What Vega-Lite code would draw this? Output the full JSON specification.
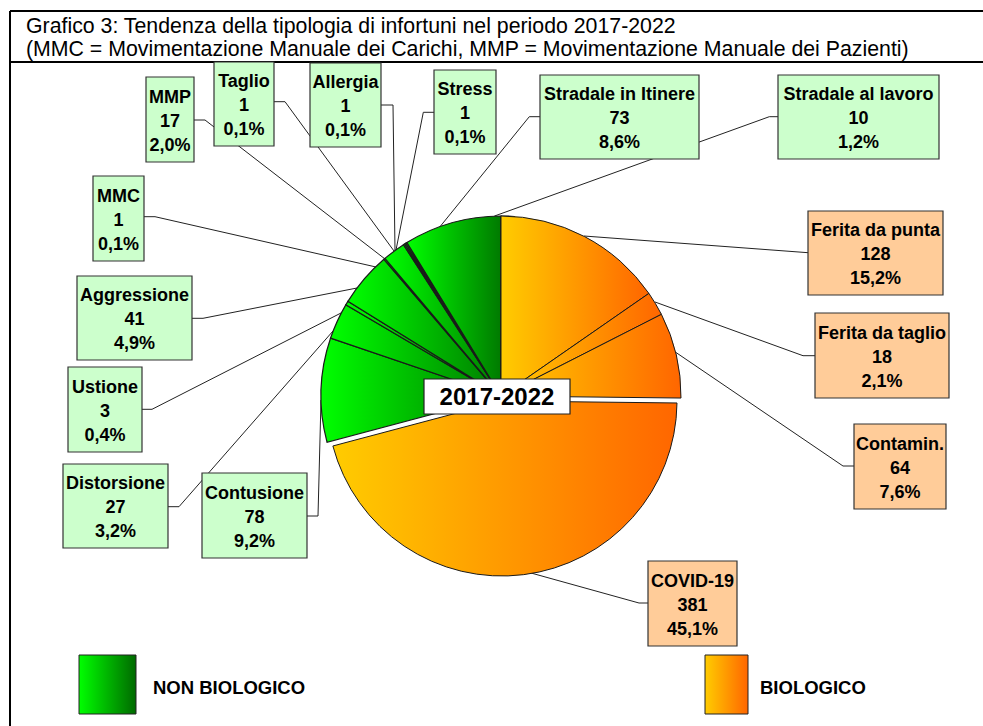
{
  "$schema": "https://vega.github.io/schema/vega-lite/v6.json",
  "width": 983,
  "height": 726,
  "autosize": {"type": "none"},
  "padding": 0,
  "background": "white",
  "config": {
    "view": {"stroke": null},
    "font": "Liberation Sans",
    "locale": {"number": {"decimal": ",", "thousands": ".", "grouping": [3], "currency": ["€", ""]}}
  },
  "title": {
    "text": ["Grafico 3: Tendenza della tipologia di infortuni nel periodo 2017-2022", "(MMC = Movimentazione Manuale dei Carichi, MMP = Movimentazione Manuale dei Pazienti)"],
    "anchor": "start",
    "frame": "group",
    "orient": "top",
    "offset": -77,
    "baseline": "alphabetic",
    "dx": 26,
    "font": "Liberation Sans",
    "fontSize": 21.3,
    "fontWeight": "normal",
    "color": "black",
    "lineHeight": 23
  },
  "datasets": {
    "slices": [
      {"k": 1, "cat": "Ferita da punta", "n": 128, "pct": 0.152, "grp": "B", "x0": 307, "x1": 442, "y0": 101, "y1": 185},
      {"k": 2, "cat": "Ferita da taglio", "n": 18, "pct": 0.021, "grp": "B", "x0": 314, "x1": 448, "y0": -2, "y1": 83},
      {"k": 3, "cat": "Contamin.", "n": 64, "pct": 0.076, "grp": "B", "x0": 353, "x1": 445, "y0": -113, "y1": -28},
      {"k": 4, "cat": "COVID-19", "n": 381, "pct": 0.451, "grp": "B", "x0": 147, "x1": 236, "y0": -250, "y1": -165},
      {"k": 5, "cat": "Contusione", "n": 78, "pct": 0.092, "grp": "NB", "x0": -299, "x1": -194, "y0": -162, "y1": -77},
      {"k": 6, "cat": "Distorsione", "n": 27, "pct": 0.032, "grp": "NB", "x0": -438, "x1": -333, "y0": -152, "y1": -68},
      {"k": 7, "cat": "Ustione", "n": 3, "pct": 0.004, "grp": "NB", "x0": -433, "x1": -359, "y0": -56, "y1": 29},
      {"k": 8, "cat": "Aggressione", "n": 41, "pct": 0.049, "grp": "NB", "x0": -424, "x1": -309, "y0": 36, "y1": 120},
      {"k": 9, "cat": "MMC", "n": 1, "pct": 0.001, "grp": "NB", "x0": -408, "x1": -357, "y0": 135, "y1": 220},
      {"k": 10, "cat": "MMP", "n": 17, "pct": 0.020, "grp": "NB", "x0": -355, "x1": -307, "y0": 234, "y1": 319},
      {"k": 11, "cat": "Taglio", "n": 1, "pct": 0.001, "grp": "NB", "x0": -287, "x1": -227, "y0": 250, "y1": 334},
      {"k": 12, "cat": "Allergia", "n": 1, "pct": 0.001, "grp": "NB", "x0": -191, "x1": -120, "y0": 249, "y1": 333},
      {"k": 13, "cat": "Stress", "n": 1, "pct": 0.001, "grp": "NB", "x0": -67, "x1": -5, "y0": 242, "y1": 326},
      {"k": 14, "cat": "Stradale in Itinere", "n": 73, "pct": 0.086, "grp": "NB", "x0": 39, "x1": 198, "y0": 237, "y1": 321},
      {"k": 15, "cat": "Stradale al lavoro", "n": 10, "pct": 0.012, "grp": "NB", "x0": 277, "x1": 438, "y0": 237, "y1": 321}
    ],
    "leaders": [
      {"cat": "Ferita da punta", "i": 0, "X": 307, "Y": 143.3},
      {"cat": "Ferita da punta", "i": 1, "X": 83, "Y": 160},
      {"cat": "Ferita da taglio", "i": 0, "X": 314, "Y": 40.3},
      {"cat": "Ferita da taglio", "i": 1, "X": 302, "Y": 40.3},
      {"cat": "Ferita da taglio", "i": 2, "X": 154, "Y": 94},
      {"cat": "Contamin.", "i": 0, "X": 353, "Y": -70},
      {"cat": "Contamin.", "i": 1, "X": 342, "Y": -70},
      {"cat": "Contamin.", "i": 2, "X": 175, "Y": 43.5},
      {"cat": "COVID-19", "i": 0, "X": 147, "Y": -207},
      {"cat": "COVID-19", "i": 1, "X": 138, "Y": -207},
      {"cat": "COVID-19", "i": 2, "X": 30, "Y": -177},
      {"cat": "Contusione", "i": 0, "X": -194, "Y": -120},
      {"cat": "Contusione", "i": 1, "X": -183, "Y": -120},
      {"cat": "Contusione", "i": 2, "X": -180, "Y": -4},
      {"cat": "Distorsione", "i": 0, "X": -333, "Y": -110.7},
      {"cat": "Distorsione", "i": 1, "X": -322, "Y": -110.7},
      {"cat": "Distorsione", "i": 2, "X": -168, "Y": 65},
      {"cat": "Ustione", "i": 0, "X": -359, "Y": -13.3},
      {"cat": "Ustione", "i": 1, "X": -349, "Y": -13.3},
      {"cat": "Ustione", "i": 2, "X": -160, "Y": 83},
      {"cat": "Aggressione", "i": 0, "X": -309, "Y": 77.7},
      {"cat": "Aggressione", "i": 1, "X": -298, "Y": 77.7},
      {"cat": "Aggressione", "i": 2, "X": -144, "Y": 108},
      {"cat": "MMC", "i": 0, "X": -357, "Y": 179.3},
      {"cat": "MMC", "i": 1, "X": -346, "Y": 179.3},
      {"cat": "MMC", "i": 2, "X": -125, "Y": 129},
      {"cat": "MMP", "i": 0, "X": -307, "Y": 276},
      {"cat": "MMP", "i": 1, "X": -296, "Y": 276},
      {"cat": "MMP", "i": 2, "X": -116, "Y": 137},
      {"cat": "Taglio", "i": 0, "X": -227, "Y": 294.3},
      {"cat": "Taglio", "i": 1, "X": -216, "Y": 294.3},
      {"cat": "Taglio", "i": 2, "X": -107, "Y": 145},
      {"cat": "Allergia", "i": 0, "X": -120, "Y": 291},
      {"cat": "Allergia", "i": 1, "X": -108, "Y": 291},
      {"cat": "Allergia", "i": 2, "X": -106, "Y": 145.5},
      {"cat": "Stress", "i": 0, "X": -67, "Y": 283.7},
      {"cat": "Stress", "i": 1, "X": -77.7, "Y": 283.7},
      {"cat": "Stress", "i": 2, "X": -105, "Y": 146},
      {"cat": "Stradale in Itinere", "i": 0, "X": 39, "Y": 279.3},
      {"cat": "Stradale in Itinere", "i": 1, "X": 28.3, "Y": 279.3},
      {"cat": "Stradale in Itinere", "i": 2, "X": -61, "Y": 169.3},
      {"cat": "Stradale al lavoro", "i": 0, "X": 277, "Y": 279.3},
      {"cat": "Stradale al lavoro", "i": 1, "X": 268.3, "Y": 279.3},
      {"cat": "Stradale al lavoro", "i": 2, "X": -6.7, "Y": 179.9}
    ],
    "center": [
      {"lab": "2017-2022", "x0": -77, "x1": 69, "y0": -18, "y1": 17}
    ],
    "legend": [
      {"lab": "NON BIOLOGICO", "grp": "NB", "x0": -422, "x1": -365, "y0": -318, "y1": -259, "tx": -348},
      {"lab": "BIOLOGICO", "grp": "B", "x0": 204, "x1": 247, "y0": -318, "y1": -259, "tx": 259}
    ],
    "frame": [
      {"x": -491, "x2": -491, "y": 385, "y2": -330},
      {"x": -491, "x2": 482, "y": 385, "y2": 385},
      {"x": -491, "x2": 482, "y": 334, "y2": 334}
    ]
  },
  "layer": [
    {
      "data": {"name": "frame"},
      "mark": {"type": "rule", "stroke": "black", "strokeWidth": 2},
      "encoding": {
        "x": {"field": "x", "type": "quantitative", "scale": {"domain": [-501, 482], "nice": false, "zero": false}, "axis": null},
        "x2": {"field": "x2"},
        "y": {"field": "y", "type": "quantitative", "scale": {"domain": [-330, 396], "nice": false, "zero": false}, "axis": null},
        "y2": {"field": "y2"}
      }
    },
    {
      "data": {"name": "leaders"},
      "mark": {"type": "line", "stroke": "#222222", "strokeWidth": 1},
      "encoding": {
        "x": {"field": "X", "type": "quantitative", "scale": {"domain": [-501, 482], "nice": false, "zero": false}, "axis": null},
        "y": {"field": "Y", "type": "quantitative", "scale": {"domain": [-330, 396], "nice": false, "zero": false}, "axis": null},
        "detail": {"field": "cat"},
        "order": {"field": "i", "type": "quantitative"}
      }
    },
    {
      "data": {"name": "slices"},
      "transform": [
        {"stack": "n", "groupby": [], "sort": [{"field": "k", "order": "ascending"}], "as": ["t0", "t1"]},
        {"filter": "datum.grp === 'NB'"}
      ],
      "mark": {
        "type": "arc", "outerRadius": 180, "stroke": "#1a1a1a", "strokeWidth": 1.2,
        "fill": {"gradient": "linear", "x1": 0, "y1": 0, "x2": 1, "y2": 0, "stops": [{"offset": 0, "color": "#00FF00"}, {"offset": 1, "color": "#007A00"}]}
      },
      "encoding": {
        "theta": {"field": "t0", "type": "quantitative", "stack": null},
        "theta2": {"field": "t1"},
        "x": {"datum": 0, "type": "quantitative", "scale": {"domain": [-501, 482], "nice": false, "zero": false}, "axis": null},
        "y": {"datum": 0, "type": "quantitative", "scale": {"domain": [-330, 396], "nice": false, "zero": false}, "axis": null}
      }
    },
    {
      "data": {"name": "slices"},
      "transform": [
        {"stack": "n", "groupby": [], "sort": [{"field": "k", "order": "ascending"}], "as": ["t0", "t1"]},
        {"filter": "datum.grp === 'B' && datum.cat !== 'COVID-19'"}
      ],
      "mark": {
        "type": "arc", "outerRadius": 180, "stroke": "#1a1a1a", "strokeWidth": 1,
        "fill": {"gradient": "linear", "x1": 0, "y1": 0, "x2": 1, "y2": 0, "stops": [{"offset": 0, "color": "#FFCC00"}, {"offset": 1, "color": "#FF6600"}]}
      },
      "encoding": {
        "theta": {"field": "t0", "type": "quantitative", "stack": null},
        "theta2": {"field": "t1"},
        "x": {"datum": 0, "type": "quantitative", "scale": {"domain": [-501, 482], "nice": false, "zero": false}, "axis": null},
        "y": {"datum": 0, "type": "quantitative", "scale": {"domain": [-330, 396], "nice": false, "zero": false}, "axis": null}
      }
    },
    {
      "data": {"name": "slices"},
      "transform": [
        {"stack": "n", "groupby": [], "sort": [{"field": "k", "order": "ascending"}], "as": ["t0", "t1"]},
        {"filter": "datum.cat === 'COVID-19'"}
      ],
      "mark": {
        "type": "arc", "outerRadius": 175, "stroke": "#1a1a1a", "strokeWidth": 1, "xOffset": 1, "yOffset": 5,
        "fill": {"gradient": "linear", "x1": 0, "y1": 0, "x2": 1, "y2": 0, "stops": [{"offset": 0, "color": "#FFCC00"}, {"offset": 1, "color": "#FF6600"}]}
      },
      "encoding": {
        "theta": {"field": "t0", "type": "quantitative", "stack": null},
        "theta2": {"field": "t1"},
        "x": {"datum": 0, "type": "quantitative", "scale": {"domain": [-501, 482], "nice": false, "zero": false}, "axis": null},
        "y": {"datum": 0, "type": "quantitative", "scale": {"domain": [-330, 396], "nice": false, "zero": false}, "axis": null}
      }
    },
    {
      "data": {"name": "center"},
      "mark": {"type": "rect", "fill": "white", "stroke": "#222222", "strokeWidth": 1.2},
      "encoding": {
        "x": {"field": "x0", "type": "quantitative", "scale": {"domain": [-501, 482], "nice": false, "zero": false}, "axis": null},
        "x2": {"field": "x1"},
        "y": {"field": "y0", "type": "quantitative", "scale": {"domain": [-330, 396], "nice": false, "zero": false}, "axis": null},
        "y2": {"field": "y1"}
      }
    },
    {
      "data": {"name": "center"},
      "transform": [{"calculate": "(datum.x0 + datum.x1) / 2", "as": "cx"}, {"calculate": "(datum.y0 + datum.y1) / 2", "as": "cy"}],
      "mark": {"type": "text", "fontSize": 24, "fontWeight": "bold", "align": "center", "baseline": "middle", "color": "black", "dy": 1},
      "encoding": {
        "x": {"field": "cx", "type": "quantitative", "scale": {"domain": [-501, 482], "nice": false, "zero": false}, "axis": null},
        "y": {"field": "cy", "type": "quantitative", "scale": {"domain": [-330, 396], "nice": false, "zero": false}, "axis": null},
        "text": {"field": "lab"}
      }
    },
    {
      "data": {"name": "slices"},
      "mark": {"type": "rect", "stroke": "#333333", "strokeWidth": 1.2},
      "encoding": {
        "x": {"field": "x0", "type": "quantitative", "scale": {"domain": [-501, 482], "nice": false, "zero": false}, "axis": null},
        "x2": {"field": "x1"},
        "y": {"field": "y0", "type": "quantitative", "scale": {"domain": [-330, 396], "nice": false, "zero": false}, "axis": null},
        "y2": {"field": "y1"},
        "fill": {"condition": {"test": "datum.grp === 'B'", "value": "#FFCC99"}, "value": "#CCFFCC"}
      }
    },
    {
      "data": {"name": "slices"},
      "transform": [{"calculate": "(datum.x0 + datum.x1) / 2", "as": "cx"}, {"calculate": "(datum.y0 + datum.y1) / 2", "as": "cy"}],
      "mark": {"type": "text", "fontSize": 18, "fontWeight": "bold", "align": "center", "baseline": "middle", "color": "black", "dy": -22},
      "encoding": {
        "x": {"field": "cx", "type": "quantitative", "scale": {"domain": [-501, 482], "nice": false, "zero": false}, "axis": null},
        "y": {"field": "cy", "type": "quantitative", "scale": {"domain": [-330, 396], "nice": false, "zero": false}, "axis": null},
        "text": {"field": "cat"}
      }
    },
    {
      "data": {"name": "slices"},
      "transform": [{"calculate": "(datum.x0 + datum.x1) / 2", "as": "cx"}, {"calculate": "(datum.y0 + datum.y1) / 2", "as": "cy"}],
      "mark": {"type": "text", "fontSize": 18, "fontWeight": "bold", "align": "center", "baseline": "middle", "color": "black", "dy": 2},
      "encoding": {
        "x": {"field": "cx", "type": "quantitative", "scale": {"domain": [-501, 482], "nice": false, "zero": false}, "axis": null},
        "y": {"field": "cy", "type": "quantitative", "scale": {"domain": [-330, 396], "nice": false, "zero": false}, "axis": null},
        "text": {"field": "n", "type": "quantitative", "format": "d"}
      }
    },
    {
      "data": {"name": "slices"},
      "transform": [{"calculate": "(datum.x0 + datum.x1) / 2", "as": "cx"}, {"calculate": "(datum.y0 + datum.y1) / 2", "as": "cy"}],
      "mark": {"type": "text", "fontSize": 18, "fontWeight": "bold", "align": "center", "baseline": "middle", "color": "black", "dy": 26},
      "encoding": {
        "x": {"field": "cx", "type": "quantitative", "scale": {"domain": [-501, 482], "nice": false, "zero": false}, "axis": null},
        "y": {"field": "cy", "type": "quantitative", "scale": {"domain": [-330, 396], "nice": false, "zero": false}, "axis": null},
        "text": {"field": "pct", "type": "quantitative", "format": ".1%"}
      }
    },
    {
      "data": {"name": "legend"},
      "transform": [{"filter": "datum.grp === 'NB'"}],
      "mark": {
        "type": "rect", "stroke": "#222222", "strokeWidth": 1,
        "fill": {"gradient": "linear", "x1": 0, "y1": 0, "x2": 1, "y2": 0, "stops": [{"offset": 0, "color": "#00FF00"}, {"offset": 1, "color": "#006A00"}]}
      },
      "encoding": {
        "x": {"field": "x0", "type": "quantitative", "scale": {"domain": [-501, 482], "nice": false, "zero": false}, "axis": null},
        "x2": {"field": "x1"},
        "y": {"field": "y0", "type": "quantitative", "scale": {"domain": [-330, 396], "nice": false, "zero": false}, "axis": null},
        "y2": {"field": "y1"}
      }
    },
    {
      "data": {"name": "legend"},
      "transform": [{"filter": "datum.grp === 'B'"}],
      "mark": {
        "type": "rect", "stroke": "#222222", "strokeWidth": 1,
        "fill": {"gradient": "linear", "x1": 0, "y1": 0, "x2": 1, "y2": 0, "stops": [{"offset": 0, "color": "#FFCC00"}, {"offset": 1, "color": "#FF6600"}]}
      },
      "encoding": {
        "x": {"field": "x0", "type": "quantitative", "scale": {"domain": [-501, 482], "nice": false, "zero": false}, "axis": null},
        "x2": {"field": "x1"},
        "y": {"field": "y0", "type": "quantitative", "scale": {"domain": [-330, 396], "nice": false, "zero": false}, "axis": null},
        "y2": {"field": "y1"}
      }
    },
    {
      "data": {"name": "legend"},
      "transform": [{"calculate": "(datum.y0 + datum.y1) / 2", "as": "cy"}],
      "mark": {"type": "text", "fontSize": 18.5, "fontWeight": "bold", "align": "left", "baseline": "middle", "color": "black", "dy": 3},
      "encoding": {
        "x": {"field": "tx", "type": "quantitative", "scale": {"domain": [-501, 482], "nice": false, "zero": false}, "axis": null},
        "y": {"field": "cy", "type": "quantitative", "scale": {"domain": [-330, 396], "nice": false, "zero": false}, "axis": null},
        "text": {"field": "lab"}
      }
    }
  ]
}
